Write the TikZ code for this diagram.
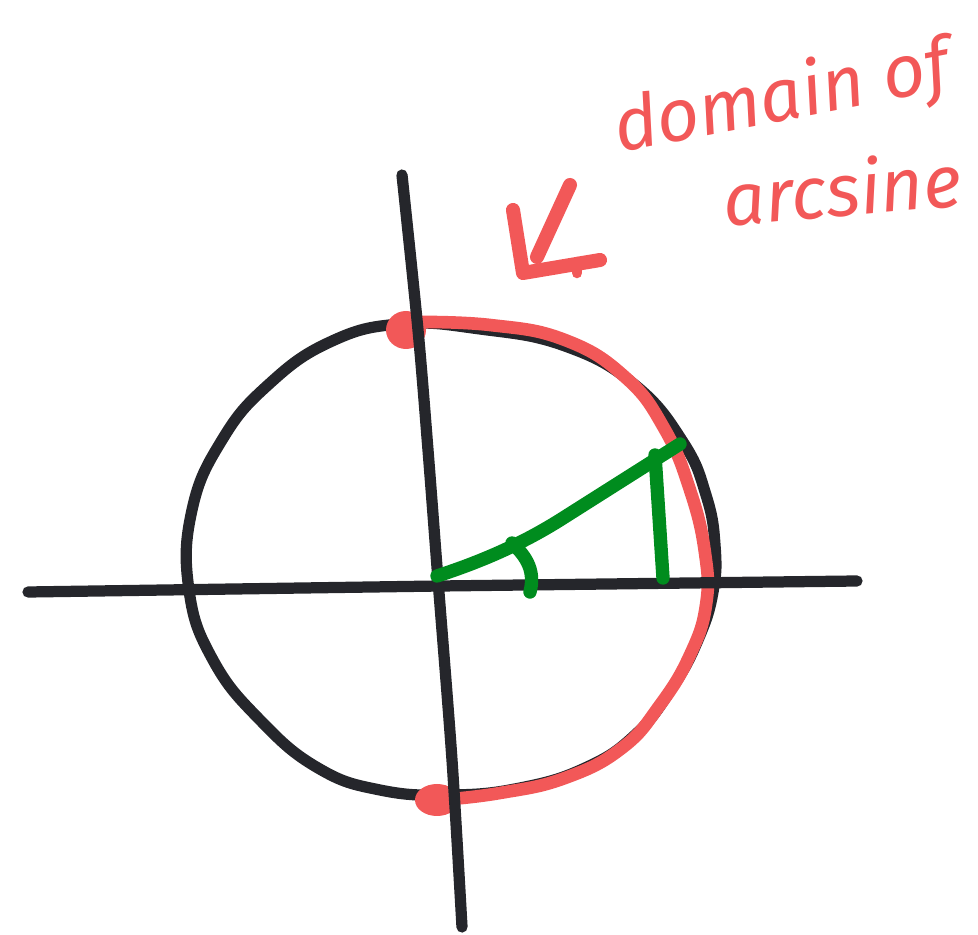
\documentclass[tikz,border=0pt]{standalone}
\usepackage{fontspec}
\setmainfont{Fira Sans}
\usepackage{xcolor}
\definecolor{skred}{RGB}{242,88,88}
\definecolor{skgreen}{RGB}{0,140,30}
\definecolor{skblack}{RGB}{37,38,43}
\usetikzlibrary{calc}

\begin{document}
\begin{tikzpicture}[x=0.02cm,y=-0.02cm,
  ink/.style={line width=6.4pt,line cap=round,line join=round},
  blk/.style={ink,skblack},
  rd/.style={ink,skred,line width=7.2pt},
  grn/.style={ink,skgreen,line width=7.6pt},
  lbl/.style={font=\fontsize{42}{46}\selectfont\itshape,text=skred,inner sep=0pt}
]
  \useasboundingbox (0,0) rectangle (978,935);

  % Unit circle
  \draw[blk] plot[smooth cycle,tension=0.75] coordinates {
    (400,324) (480,329) (565,346) (635,385) (683,442) (706,495) (715,545)
    (713,592) (698,640) (672,688) (635,735) (585,768) (520,788) (450,795)
    (380,790) (318,768) (260,720) (213,660) (189,590) (192,510)
    (222,440) (268,385) (330,342)};

  % Domain of arcsine (right half)
  \draw[rd] plot[smooth,tension=0.75] coordinates {
    (410,322) (490,325) (565,340) (625,377) (664,428) (690,490) (705,553)
    (706,605) (690,655) (660,705) (622,748) (565,778) (500,793) (440,800)};
  \fill[skred] (406,330) ellipse (20 and 19);
  \fill[skred] (437,800) ellipse (22 and 16);

  % Axes
  \draw[blk] (28,592) -- (440,586) -- (857,581);
  \draw[blk] plot[smooth] coordinates {(402,175) (418,330) (428,450) (438,580) (452,760) (462,927)};
  \coordinate (O) at (437,576);

  % Angle and triangle
  \draw[grn] (O) .. controls (480,562) and (520,545) .. (560,520) -- (680,444);
  \draw[grn] (655,455) -- (663,578);
  \draw[grn] (512,543) .. controls (528,558) and (535,572) .. (530,592);

  % Arrow
  \draw[rd,line width=8pt] (570,185) -- (537,257);
  \draw[rd,line width=8pt] (513,210) -- (523,273) -- (600,260);
  \draw[rd,line width=6pt] (577,262) -- (577,273);

  % Label
  \node[lbl,rotate=11] (dom) at (782,100) {domain of};
  \node[lbl,rotate=5] (arc) at (842,188) {arcsine};
\end{tikzpicture}
\end{document}
